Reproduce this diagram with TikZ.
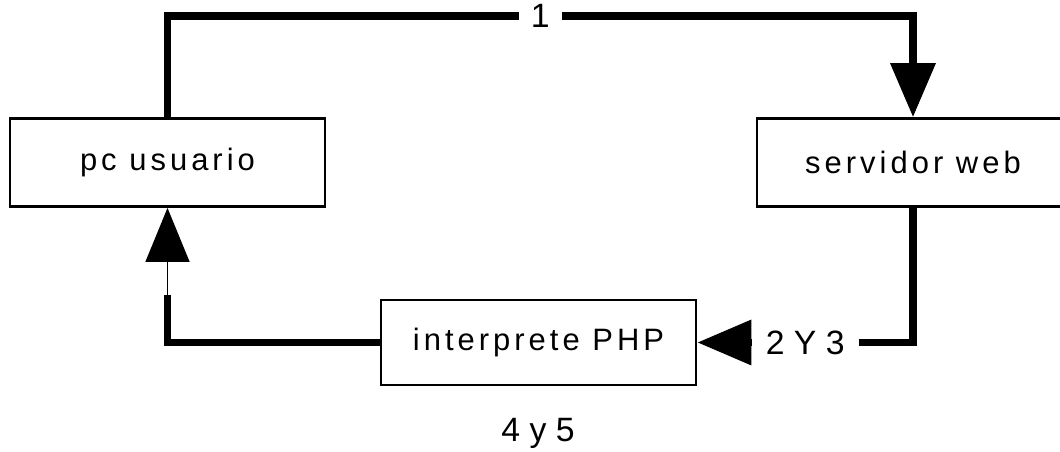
\documentclass[tikz,border=0pt]{standalone}
\usepackage{fontspec}
\setmainfont{Liberation Sans}
\usetikzlibrary{arrows.meta}

\begin{document}
\begin{tikzpicture}[x=0.025cm,y=0.025cm,
	caja/.style={draw,line width=2pt,minimum height=2.2cm,inner sep=0pt,
		font=\fontsize{22}{25}\selectfont\addfontfeature{LetterSpace=13}},
	flujo/.style={line width=5pt},
	fino/.style={line width=1pt},
	punta/.style={-{Triangle[length=1.35cm,width=1.1cm]}},
	etiq/.style={fill=white,inner ysep=2pt,font=\fontsize{24}{27}\selectfont}]
\useasboundingbox (0,0) rectangle (1060,452);
\clip (0,0) rectangle (1060,452);

%cajas
\node[caja,minimum width=7.875cm] (pc) at (167.5,289.5) {pc usuario};
\node[caja,minimum width=7.8cm] (srv) at (913,289.5) {servidor web};
\node[caja,minimum width=7.875cm,minimum height=2.125cm] (php) at (538.5,109.5) {interprete PHP};

\coordinate (arriba) at (0,436);
\coordinate (quiebre) at (0,157);

%1
\draw[flujo,punta] (pc.north) -- (pc.north |- arriba) -| node[etiq,pos=0.25,inner xsep=0.3cm]{1} (srv.north);

%2 Y 3
\draw[flujo,punta] (srv.south) |- node[etiq,pos=0.75,inner xsep=0.35cm]{2 Y 3} (php.east);

%4 y 5
\draw[flujo] (php.west) -| (pc.south |- quiebre);
\draw[fino,punta] (pc.south |- quiebre) -- (pc.south);
\node[etiq] (paso) at (538,19) {4 y 5};

\end{tikzpicture}
\end{document}
